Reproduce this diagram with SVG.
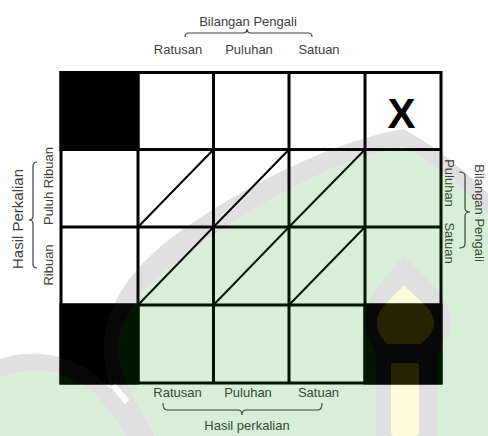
<svg xmlns="http://www.w3.org/2000/svg" width="488" height="436" viewBox="0 0 488 436">
<style>
.lbl{font-family:"Liberation Sans",Arial,sans-serif;font-size:13px;fill:#404040;text-anchor:middle}
.big{font-size:15px}
.brace{fill:none;stroke:#404040;stroke-width:1.2}
.cell{fill:#fff;stroke:#000;stroke-width:3}
.blk{fill:#000;stroke:#000;stroke-width:3}
.diag{stroke:#000;stroke-width:2;fill:none}
.wmg{fill:#3a3a3a}
.wmy{fill:#ffe614}
.wmgr{fill:#009200}
</style>
<rect width="488" height="436" fill="#fff"/>

<g id="grid">
  <rect class="cell" x="61" y="72.5" width="380" height="310.5"/>
  <rect class="blk" x="61" y="72.5" width="77" height="77"/>
  <rect class="blk" x="61" y="305" width="77" height="78"/>
  <rect class="blk" x="365" y="305" width="76" height="78"/>
  <path d="M138,72.5V383M213.5,72.5V383M289,72.5V383M365,72.5V383M61,149.5H441M61,227H441M61,305H441" stroke="#000" stroke-width="3" fill="none"/>
</g>

<g id="diagonals">
  <path class="diag" d="M138,227L213.5,149.5M213.5,227L289,149.5M289,227L365,149.5M138,305L213.5,227M213.5,305L289,227M289,305L365,227"/>
</g>

<g id="times">
  <text x="401.5" y="128" font-family="Liberation Sans,Arial,sans-serif" font-size="42" font-weight="bold" text-anchor="middle" fill="#000">X</text>
</g>

<g id="top-labels">
  <text class="lbl" x="248" y="26">Bilangan Pengali</text>
  <path class="brace" d="M185,37Q185,33 189,33L243,33Q247,33 247,29Q247,33 251,33L308,33Q312,33 312,37"/>
  <text class="lbl" x="178" y="54">Ratusan</text>
  <text class="lbl" x="249" y="54">Puluhan</text>
  <text class="lbl" x="319" y="54">Satuan</text>
</g>

<g id="bottom-labels">
  <text class="lbl" x="177.5" y="397">Ratusan</text>
  <text class="lbl" x="248" y="397">Puluhan</text>
  <text class="lbl" x="318.5" y="397">Satuan</text>
  <path class="brace" d="M163,403Q163,410 167,410L238,410Q242,410 242,415Q242,410 246,410L318,410Q322,410 322,403"/>
  <text class="lbl" x="247" y="430">Hasil perkalian</text>
</g>

<g id="left-labels">
  <text class="lbl big" transform="translate(23,219) rotate(-90)">Hasil Perkalian</text>
  <path class="brace" d="M37,162Q33,162 33,166L33,216Q33,220 29,220Q33,220 33,224L33,264Q33,268 37,268"/>
  <text class="lbl" transform="translate(53,186) rotate(-90)">Puluh Ribuan</text>
  <text class="lbl" transform="translate(53,265) rotate(-90)">Ribuan</text>
</g>

<g id="right-labels">
  <text class="lbl" transform="translate(475,213) rotate(90)">Bilangan Pengali</text>
  <path class="brace" d="M459,172Q465,172 465,176L465,208Q465,212 470,212Q465,212 465,216L465,244Q465,248 459,248"/>
  <text class="lbl" transform="translate(445,183) rotate(90)">Puluhan</text>
  <text class="lbl" transform="translate(445,243) rotate(90)">Satuan</text>
</g>

<g id="watermark" opacity="0.15">
  <path class="wmgr" d="M488,215Q440,165 403,147C330,160 250,210 200,245C140,285 105,330 122,370C130,395 145,415 155,436L488,436Z"/>
  <path class="wmgr" d="M0,378C30,365 70,370 93,393C105,405 115,420 126,436L0,436Z"/>
  <path class="wmg" d="M488,193Q440,148 403,129C330,142 245,186 182,230C122,272 95,322 106,370C111,395 120,420 129,436L155,436C145,415 130,395 122,370C105,330 140,285 200,245C250,210 330,160 403,147Q440,165 488,215Z"/>
  <path class="wmg" d="M0,359C30,349 70,352 100,379C120,397 138,416 150,436L126,436C115,420 105,405 93,393C70,370 30,365 0,378Z"/>
  <path stroke="#fff" stroke-width="6" d="M113,385L127,402"/>
  <path class="wmg" d="M404,255C420,275 451,295 451,320C451,340 437,348 437,355L437,436L376,436L376,355C376,348 365,340 365,320C365,295 388,275 404,255Z"/>
  <path class="wmy" d="M404,285C415,298 434,308 434,322C434,335 424,340 421,344L387,344C384,340 377,335 377,322C377,308 393,298 404,285Z"/>
  <rect class="wmy" x="391" y="363" width="28" height="73" rx="3"/>
</g>
</svg>
